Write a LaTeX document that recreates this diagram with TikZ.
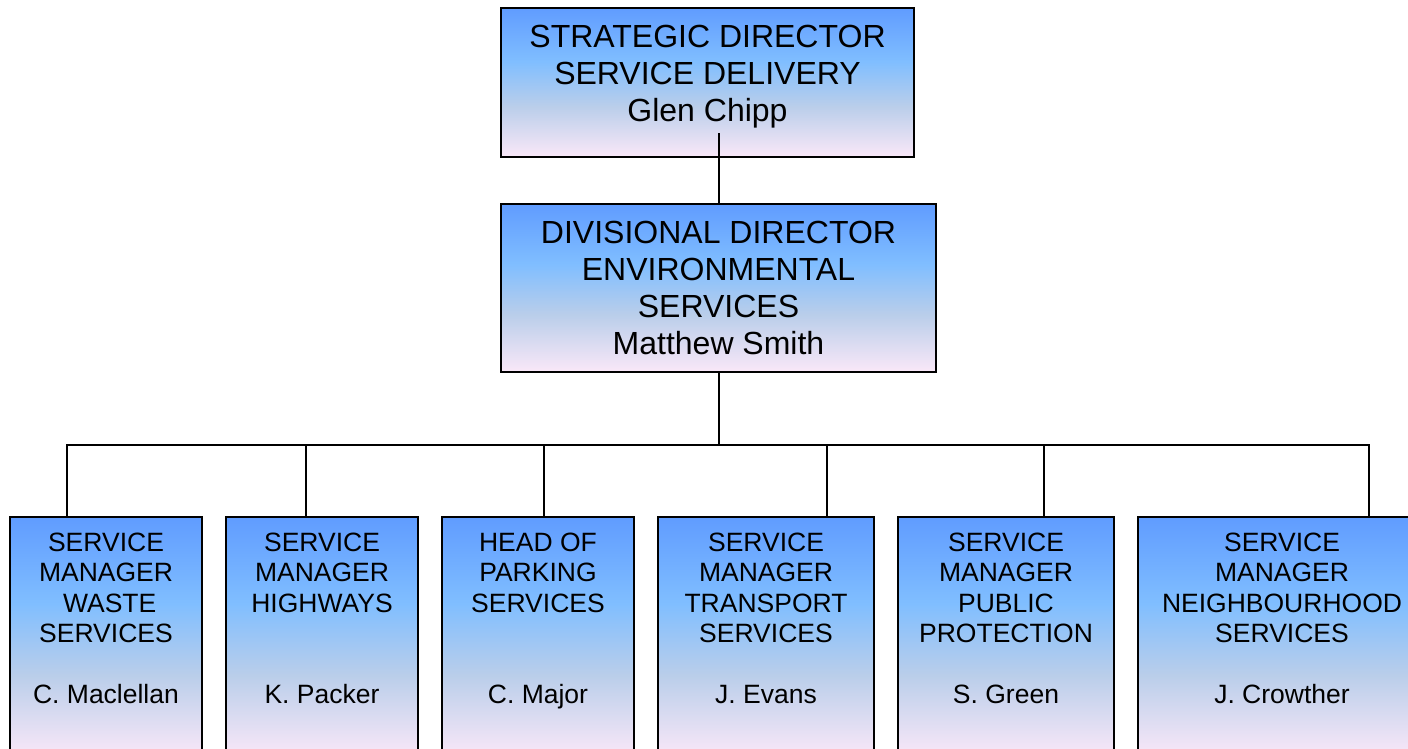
\documentclass[tikz,border=0pt]{standalone}
\usepackage{fontspec}
\setmainfont{Liberation Sans}
\usepackage{tikz}
\usetikzlibrary{positioning}
\definecolor{fadeblue}{RGB}{96,156,255}
\definecolor{fadelight}{RGB}{128,190,255}
\definecolor{fadegrey}{RGB}{186,206,234}
\definecolor{fadepink}{RGB}{250,232,248}
\pgfdeclareverticalshading{postfade}{100bp}{color(0bp)=(fadepink); color(25bp)=(fadepink); color(42bp)=(fadegrey); color(57bp)=(fadelight); color(75bp)=(fadeblue); color(100bp)=(fadeblue)}
\tikzstyle{post} = [
	draw,
	rectangle,
	line width = 1pt,
	shading = postfade,
	inner sep = 0pt
]
\tikzstyle{head} = [post, minimum width = 206.5pt, minimum height = 74.5pt]
\tikzstyle{manager} = [post, minimum width = 108pt, minimum height = 120pt]
\tikzstyle{headtext} = [
	align = center,
	anchor = north,
	inner sep = 0pt,
	font = \fontsize{16}{18.4}\selectfont
]
\tikzstyle{managertext} = [
	align = center,
	anchor = north,
	inner sep = 0pt,
	font = \fontsize{13.25}{15.25}\selectfont
]
\tikzstyle{wire} = [draw, line width = 1pt]

\begin{document}
\begin{tikzpicture}[x=0.5pt, y=-0.5pt]
	\clip (0,0) rectangle (1408,749);

	\node [post, minimum width = 217.5pt, minimum height = 84pt] (divdir) at (718.5,288) {};
	\node [head, above=22.5pt of divdir.north west, anchor=south west] (strat) {};
	\node [headtext] (divdir-t) at ([yshift=-9.1pt]divdir.north) {DIVISIONAL DIRECTOR\\ENVIRONMENTAL\\SERVICES\\Matthew Smith};
	\node [headtext] (strat-t) at ([yshift=-9.1pt]strat.north) {STRATEGIC DIRECTOR\\SERVICE DELIVERY\\Glen Chipp};

	\node [manager, minimum width = 96pt, anchor=north west] (waste) at (9,516) {};
	\node [manager, minimum width = 96pt, right=11pt of waste] (highways) {};
	\node [manager, minimum width = 96pt, right=11pt of highways] (parking) {};
	\node [manager, right=11pt of parking] (transport) {};
	\node [manager, right=11pt of transport] (protect) {};
	\node [manager, minimum width = 144pt, right=11pt of protect] (neighbour) {};

	\node [managertext] (waste-t) at ([yshift=-8.25pt]waste.north) {SERVICE\\MANAGER\\~WASTE\\SERVICES\\[15.25pt]C. Maclellan};
	\node [managertext] (highways-t) at ([yshift=-8.25pt]highways.north) {SERVICE\\MANAGER\\HIGHWAYS\\[30.5pt]K. Packer};
	\node [managertext] (parking-t) at ([yshift=-8.25pt]parking.north) {HEAD OF\\PARKING\\SERVICES\\[30.5pt]C. Major};
	\node [managertext] (transport-t) at ([yshift=-8.25pt]transport.north) {SERVICE\\MANAGER\\TRANSPORT\\SERVICES\\[15.25pt]J. Evans};
	\node [managertext] (protect-t) at ([yshift=-8.25pt]protect.north) {SERVICE\\MANAGER\\PUBLIC\\PROTECTION\\[15.25pt]S. Green};
	\node [managertext] (neighbour-t) at ([yshift=-8.25pt]neighbour.north) {SERVICE\\MANAGER\\NEIGHBOURHOOD\\SERVICES\\[15.25pt]J. Crowther};

	\coordinate (stem) at ([yshift=12.5pt]divdir.north |- strat.south);
	\coordinate (bus) at ([yshift=-36pt]divdir.south);
	\draw [wire] (divdir.north) -- (stem);
	\draw [wire] (divdir.south) -- (bus);
	\foreach \n/\dx in {waste/29, highways/40.5, parking/51.5, transport/85, protect/73.5, neighbour/116}
		\draw [wire] ([xshift=\dx pt]\n.north west) |- (bus);
\end{tikzpicture}
\end{document}
